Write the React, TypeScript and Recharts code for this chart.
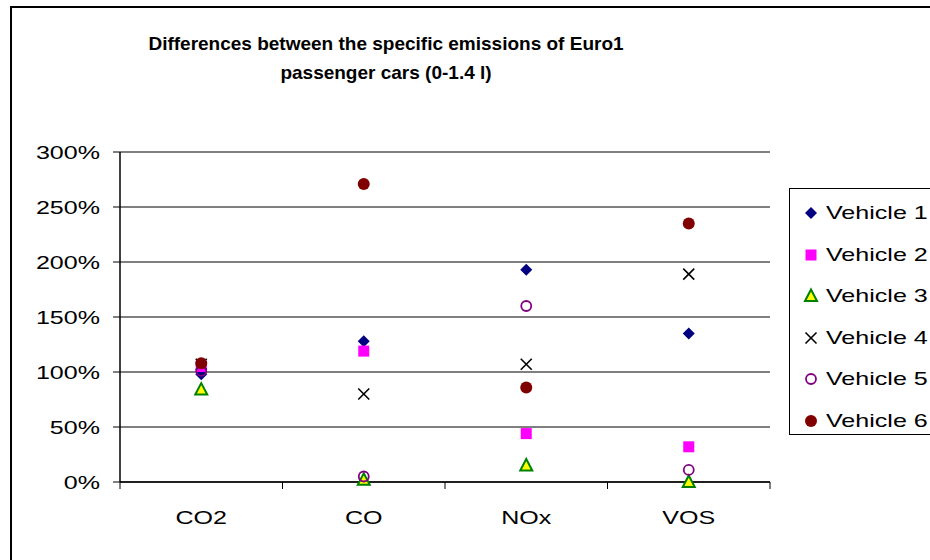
import React from 'react';
import { ComposedChart, Line, XAxis, YAxis, CartesianGrid } from 'recharts';

// Emission ratios (%) per pollutant for each vehicle
const categories = ['CO2', 'CO', 'NOx', 'VOS'];
const vehicle1 = [98, 128, 193, 135];
const vehicle2 = [105, 119, 44, 32];
const vehicle3 = [84, 2, 15, 0];
const vehicle4 = [107, 80, 107, 189];
const vehicle5 = [101, 5, 160, 11];
const vehicle6 = [108, 271, 86, 235];
const yTicks = [0, 50, 100, 150, 200, 250, 300];
const seriesNames = ['Vehicle 1', 'Vehicle 2', 'Vehicle 3', 'Vehicle 4', 'Vehicle 5', 'Vehicle 6'];
const titleLines = ['Differences between the specific emissions of Euro1', 'passenger cars (0-1.4 l)'];

const data = categories.map((cat, i) => ({
  cat,
  v1: vehicle1[i],
  v2: vehicle2[i],
  v3: vehicle3[i],
  v4: vehicle4[i],
  v5: vehicle5[i],
  v6: vehicle6[i],
}));

const FONT = '"Liberation Sans", Arial, sans-serif';
const W = 930;
const H = 560;
const PLOT_LEFT = 120;
const PLOT_RIGHT = 770;
const PLOT_TOP = 152;
const PLOT_BOTTOM = 482;
const BAND = (PLOT_RIGHT - PLOT_LEFT) / categories.length;
// the labels are drawn with wide glyphs
const STRETCH = 1.32;

type MarkProps = { cx: number; cy: number };

const Diamond = ({ cx, cy }: MarkProps) => (
  <polygon points={`${cx},${cy - 6} ${cx + 6},${cy} ${cx},${cy + 6} ${cx - 6},${cy}`} fill="#000080" />
);
const Square = ({ cx, cy }: MarkProps) => (
  <rect x={cx - 5.5} y={cy - 5.5} width={11} height={11} fill="#FF00FF" />
);
const Triangle = ({ cx, cy }: MarkProps) => (
  <polygon
    points={`${cx},${cy - 6.5} ${cx + 6},${cy + 5} ${cx - 6},${cy + 5}`}
    fill="#FFFF00"
    stroke="#008000"
    strokeWidth={2}
  />
);
const Cross = ({ cx, cy }: MarkProps) => (
  <g stroke="#000" strokeWidth={1.6}>
    <line x1={cx - 5.5} y1={cy - 5.5} x2={cx + 5.5} y2={cy + 5.5} />
    <line x1={cx - 5.5} y1={cy + 5.5} x2={cx + 5.5} y2={cy - 5.5} />
  </g>
);
const Ring = ({ cx, cy }: MarkProps) => (
  <circle cx={cx} cy={cy} r={5} fill="none" stroke="#800080" strokeWidth={1.8} />
);
const Dot = ({ cx, cy }: MarkProps) => <circle cx={cx} cy={cy} r={6} fill="#800000" />;

const shapes = [Diamond, Square, Triangle, Cross, Ring, Dot];
const keys = ['v1', 'v2', 'v3', 'v4', 'v5', 'v6'];

const makeDot = (Shape: (p: MarkProps) => React.ReactElement, k: string) => (p: any) => {
  if (p.cx == null || p.cy == null || p.value == null) return <g key={`${k}-${p.index}`} />;
  return (
    <g key={`${k}-${p.index}`}>
      <Shape cx={p.cx} cy={p.cy} />
    </g>
  );
};

const XTick = (props: any) => {
  const { x, y, payload, index } = props;
  const half = BAND / 2;
  return (
    <g>
      <line x1={x - half} x2={x - half} y1={y} y2={y + 7} stroke="#000" strokeWidth={1} />
      {index === categories.length - 1 && (
        <line x1={x + half} x2={x + half} y1={y} y2={y + 7} stroke="#000" strokeWidth={1} />
      )}
      <text
        transform={`translate(${x},${y + 42}) scale(${STRETCH},1)`}
        textAnchor="middle"
        fontSize={19}
        fontFamily={FONT}
        fill="#000"
      >
        {payload.value}
      </text>
    </g>
  );
};

const YTick = (props: any) => {
  const { x, y, payload } = props;
  return (
    <text
      transform={`translate(${x},${y + 7}) scale(${STRETCH},1)`}
      textAnchor="end"
      fontSize={19}
      fontFamily={FONT}
      fill="#000"
    >
      {`${payload.value}%`}
    </text>
  );
};

const LegendBox = () => (
  <div
    style={{
      position: 'absolute',
      left: 789,
      top: 188,
      width: 200,
      height: 247,
      border: '1px solid #000',
      background: '#fff',
      boxSizing: 'border-box',
    }}
  >
    {seriesNames.map((name, i) => {
      const Shape = shapes[i];
      return (
        <div
          key={name}
          style={{
            position: 'absolute',
            left: 12,
            top: 24 + i * 41.6 - 12,
            height: 24,
            display: 'flex',
            alignItems: 'center',
            fontFamily: FONT,
            fontSize: 19,
            whiteSpace: 'nowrap',
          }}
        >
          <svg width={18} height={18} style={{ marginRight: 6 }}>
            <Shape cx={9} cy={9} />
          </svg>
          <span style={{ display: 'inline-block', transform: `scaleX(${STRETCH})`, transformOrigin: 'left center' }}>
            {name}
          </span>
        </div>
      );
    })}
  </div>
);

export default function App() {
  return (
    <div
      style={{
        position: 'absolute',
        left: 0,
        top: 0,
        width: W,
        height: H,
        overflow: 'hidden',
        background: '#fff',
      }}
    >
      <div
        style={{
          position: 'absolute',
          left: 10,
          top: 6,
          width: W + 40,
          height: H + 40,
          border: '2px solid #000',
          boxSizing: 'border-box',
        }}
      />
      {titleLines.map((line, i) => (
        <div
          key={line}
          style={{
            position: 'absolute',
            left: 86,
            width: 600,
            top: 31 + i * 29,
            height: 26,
            lineHeight: '26px',
            textAlign: 'center',
            fontFamily: FONT,
            fontWeight: 'bold',
            fontSize: 19,
            color: '#000',
            whiteSpace: 'nowrap',
          }}
        >
          {line}
        </div>
      ))}
      <div style={{ position: 'absolute', left: 0, top: 0 }}>
        <ComposedChart
          width={W}
          height={H}
          data={data}
          margin={{ top: PLOT_TOP, right: W - PLOT_RIGHT, bottom: H - PLOT_BOTTOM - 40, left: 0 }}
        >
          <CartesianGrid horizontal vertical={false} stroke="#000" strokeWidth={1} />
          <XAxis
            dataKey="cat"
            type="category"
            scale="band"
            height={40}
            axisLine={{ stroke: '#000', strokeWidth: 1.5 }}
            tickLine={false}
            tickSize={0}
            tickMargin={0}
            tick={<XTick />}
            interval={0}
          />
          <YAxis
            type="number"
            domain={[0, 300]}
            ticks={yTicks}
            width={PLOT_LEFT}
            axisLine={{ stroke: '#000', strokeWidth: 1.5 }}
            tickLine={{ stroke: '#000' }}
            tickSize={7}
            tickMargin={13}
            tick={<YTick />}
            interval={0}
          />
          {keys.map((k, i) => (
            <Line
              key={k}
              dataKey={k}
              name={seriesNames[i]}
              stroke="none"
              isAnimationActive={false}
              dot={makeDot(shapes[i], k)}
              activeDot={false}
              legendType="none"
            />
          ))}
        </ComposedChart>
      </div>
      <LegendBox />
    </div>
  );
}
